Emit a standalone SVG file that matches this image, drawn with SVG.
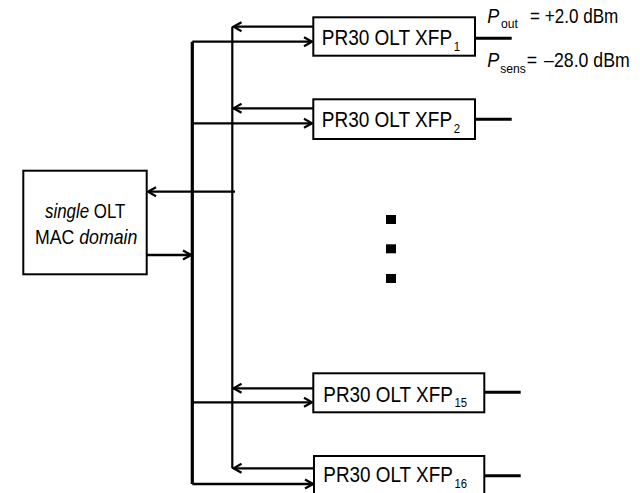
<svg xmlns="http://www.w3.org/2000/svg" width="640" height="493" viewBox="0 0 640 493">
<style>
.t{font-family:"Liberation Sans",Arial,sans-serif;fill:#000}
.m{font-size:22.5px}
.s{font-size:13.5px}
.l{font-size:20px}
.i{font-style:italic}
.box{fill:#fff;stroke:#000;stroke-width:2}
.ln{stroke:#000;stroke-width:2.3;fill:none}
.out{stroke:#000;stroke-width:3;fill:none}
</style>
<defs>
<marker id="ah" viewBox="-10 -6 12 12" refX="0" refY="0" markerWidth="12" markerHeight="12" markerUnits="userSpaceOnUse" orient="auto">
<path d="M-8,-4.5 L0,0 L-8,4.5" fill="none" stroke="#000" stroke-width="2.2"/>
</marker>
</defs>
<rect width="640" height="493" fill="#fff"/>
<g id="connectors">
<line class="ln" x1="192.3" y1="41.7" x2="192.3" y2="484" style="stroke-width:3.2"/>
<line class="ln" x1="232.3" y1="26.7" x2="232.3" y2="468.3" style="stroke-width:2.2"/>
<line class="ln" x1="192.3" y1="41.7" x2="312" y2="41.7" marker-end="url(#ah)"/>
<line class="ln" x1="192.3" y1="123.3" x2="312" y2="123.3" marker-end="url(#ah)"/>
<line class="ln" x1="192.3" y1="402.3" x2="312" y2="402.3" marker-end="url(#ah)"/>
<line class="ln" x1="192.3" y1="484" x2="313" y2="484" marker-end="url(#ah)"/>
<line class="ln" x1="313" y1="26.7" x2="233.5" y2="26.7" marker-end="url(#ah)"/>
<line class="ln" x1="313" y1="108.3" x2="233.5" y2="108.3" marker-end="url(#ah)"/>
<line class="ln" x1="313" y1="388.3" x2="233.5" y2="388.3" marker-end="url(#ah)"/>
<line class="ln" x1="314" y1="468.3" x2="233.5" y2="468.3" marker-end="url(#ah)"/>
<line class="ln" x1="235" y1="191.7" x2="148" y2="191.7" marker-end="url(#ah)"/>
<line class="ln" x1="147" y1="255" x2="191" y2="255" marker-end="url(#ah)"/>
<line class="out" x1="475" y1="38.3" x2="511.7" y2="38.3"/>
<line class="out" x1="475" y1="119.3" x2="511.7" y2="119.3"/>
<line class="out" x1="484.3" y1="392.3" x2="520.7" y2="392.3"/>
<line class="out" x1="484.3" y1="475.7" x2="520.7" y2="475.7"/>
</g>
<g id="mac">
<rect class="box" x="23.3" y="170.7" width="123.4" height="103.6"/>
<text class="t l" transform="translate(45,217.7) scale(0.845,1)"><tspan class="i">single</tspan> OLT</text>
<text class="t l" transform="translate(35,244.3) scale(0.885,1)">MAC <tspan class="i">domain</tspan></text>
</g>
<g id="xfp1">
<rect class="box" x="313.3" y="17.3" width="161.7" height="38.4"/>
<text class="t m" transform="translate(321.7,45) scale(0.846,1)">PR30 OLT XFP<tspan class="s" dx="2" dy="6">1</tspan></text>
</g>
<g id="xfp2">
<rect class="box" x="313.3" y="99.3" width="161.7" height="39.7"/>
<text class="t m" transform="translate(321.7,127.3) scale(0.846,1)">PR30 OLT XFP<tspan class="s" dx="2" dy="6">2</tspan></text>
</g>
<g id="xfp15">
<rect class="box" x="313.3" y="373.3" width="171" height="39"/>
<text class="t m" transform="translate(323.3,401.7) scale(0.84,1)">PR30 OLT XFP<tspan class="s" dx="2" dy="5">15</tspan></text>
</g>
<g id="xfp16">
<rect class="box" x="314" y="456" width="170.3" height="42"/>
<text class="t m" transform="translate(323.3,481.7) scale(0.84,1)">PR30 OLT XFP<tspan class="s" dx="2" dy="6">16</tspan></text>
</g>
<g id="power-labels">
<text class="t l" transform="translate(487.3,23.3) scale(0.9,1)"><tspan class="i">P</tspan><tspan class="s" dx="2" dy="5">out</tspan></text>
<text class="t l" transform="translate(530,23.3) scale(0.855,1)">= +2.0 dBm</text>
<text class="t l" transform="translate(487.3,66.7) scale(0.9,1)"><tspan class="i">P</tspan><tspan class="s" dx="1" dy="6">sens</tspan></text>
<text class="t l" transform="translate(526.7,66.7) scale(0.885,1)">=<tspan dx="8">–28.0 dBm</tspan></text>
</g>
<g id="ellipsis">
<rect x="386" y="215" width="10" height="9"/>
<rect x="386" y="244.3" width="10" height="9"/>
<rect x="386" y="274" width="10" height="9"/>
</g>
</svg>
